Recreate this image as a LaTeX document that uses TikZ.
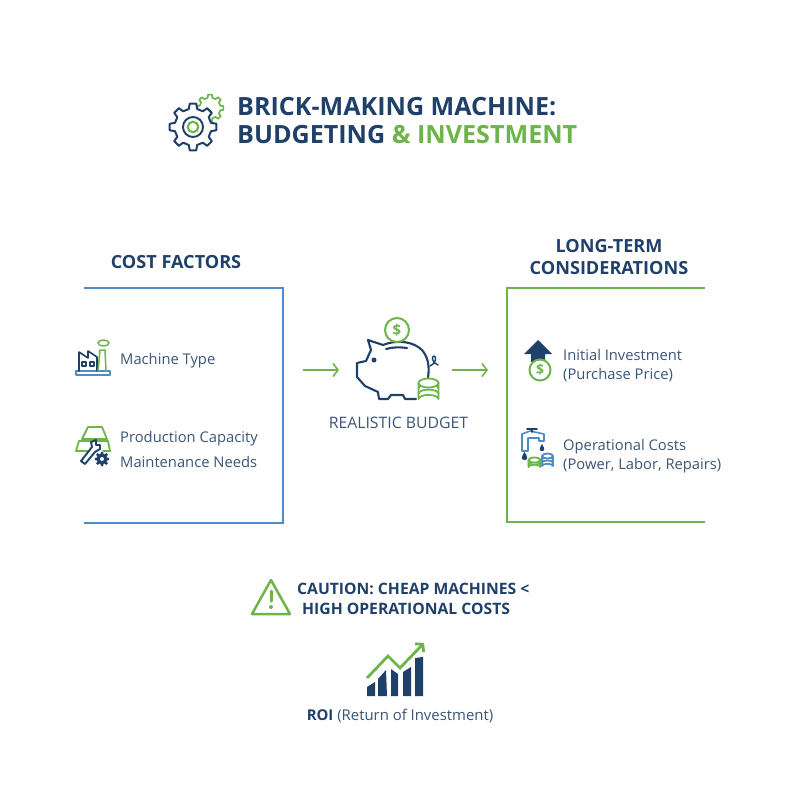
\documentclass[tikz,border=0pt]{standalone}
\usepackage{fontspec}
\setmainfont{Open Sans}
\usetikzlibrary{calc,positioning,arrows.meta}

\definecolor{navy}{HTML}{1F4068}
\definecolor{leaf}{HTML}{6DB54A}
\definecolor{skyline}{HTML}{4F8BC4}
\definecolor{bodytext}{HTML}{3A5576}

\tikzset{
    label/.style={anchor=base west, inner sep=0pt, text=bodytext, font=\fontsize{14.75}{14.75}\selectfont},
    caption/.style={anchor=base, inner sep=0pt, text=bodytext, font=\fontsize{#1}{#1}\selectfont},
    heading/.style={anchor=base, inner sep=0pt, text=navy, font=\fontsize{18.1}{18.1}\selectfont\bfseries},
    warning/.style={anchor=base west, inner sep=0pt, text=navy, font=\fontsize{15.7}{15.7}\selectfont\bfseries},
    titletext/.style={anchor=base west, inner sep=0pt, text=navy, font=\fontsize{25.1}{25.1}\selectfont\bfseries},
    coin/.style={circle, draw=leaf, line width=2pt, fill=white, inner sep=0pt, text=leaf, font=\fontsize{#1}{#1}\selectfont\bfseries},
    panel/.style={line width=2pt},
    icon/.style={line width=1.8pt, line join=round, line cap=round},
    flow/.style={draw=leaf, line width=1.6pt, -{Straight Barb[length=5pt,width=13pt]}}
}

% teeth from the root circle out to the tip circle
\newcommand{\gearpath}[4]{
    (#1,#2) ++(-13:#3) \foreach \a in {0,45,...,315} {
        -- ($(#1,#2)+(\a-13:#3)$) -- ($(#1,#2)+(\a-8:#4)$) -- ($(#1,#2)+(\a+8:#4)$) -- ($(#1,#2)+(\a+13:#3)$)
    } -- cycle
}
% stack of flat coins, top disc at y
\newcommand{\coinstack}[6]{
    \draw[icon, draw=#6, fill=white] (#1-#3,#2) -- (#1-#3,#2+#5) arc (180:360:#3 and #4*0.9) -- (#1+#3,#2);
    \foreach \k in {1,...,2} {
        \draw[icon, draw=#6] (#1-#3,#2+\k*#5/3) arc (180:360:#3 and #4*0.9);
    }
    \draw[icon, draw=#6, fill=white] (#1,#2) ellipse (#3 and #4);
}

\begin{document}
\begin{tikzpicture}[x=1pt, y=-1pt]
    \useasboundingbox (0,0) rectangle (800,800);

    % title
    \draw[icon, draw=leaf, line width=1.7pt] \gearpath{210}{108}{10.5}{13.5};
    \draw[icon, draw=navy, fill=white, line width=2pt] \gearpath{193}{127}{18.5}{23.5};
    \node[circle, draw=navy, line width=1.9pt, minimum size=20pt, inner sep=0pt] (gearring) at (193,127) {};
    \node[circle, draw=leaf, line width=2.1pt, minimum size=10.5pt, inner sep=0pt] (gearhub) at (193,127) {};
    \node[titletext] (title) at (237,115) {BRICK-MAKING MACHINE:};
    \node[titletext] (subtitle) at (237,143.5) {BUDGETING \textcolor{leaf}{\&} \textcolor{leaf}{INVESTMENT}};

    % left panel
    \node[heading] (costhead) at (176,268.5) {COST FACTORS};
    \coordinate (costa) at (84,288);
    \coordinate (costb) at (283,288);
    \coordinate (costc) at (283,523);
    \coordinate (costd) at (84,523);
    \draw[panel, draw=skyline] (costa) -- (costb) -- (costc) -- (costd);

    % factory
    \draw[icon, draw=skyline, line width=1.7pt] (76,371) rectangle (110,375);
    \draw[icon, draw=navy, line width=1.6pt] (79,371) -- (79,352) -- (88,358) -- (88,351) -- (97,357) -- (97,371);
    \draw[icon, draw=navy, line width=1.3pt] (82,362) rectangle (86,366) (90,362) rectangle (94,366);
    \draw[icon, draw=leaf, line width=1.5pt] (98,371) -- (100,350) -- (105,350) -- (106,371);
    \draw[icon, draw=leaf, line width=1.5pt] (103.5,343) ellipse (5.5 and 3);
    \node[label] (machine) at (120,364) {Machine Type};

    % bricks and spanner
    \draw[icon, draw=leaf] (82,439) -- (88,427) -- (102,427) -- (107,439) -- cycle;
    \draw[icon, draw=leaf] (76,451) -- (79,441) -- (93,441) -- (95,451) -- cycle;
    \draw[icon, draw=leaf] (97,441) -- (108,441) -- (110,451) -- (103,451);
    \draw[icon, draw=navy, fill=white, line width=1.9pt] (81,461) -- (92,447) -- (91,442) -- (96,440) -- (96,445) -- (100,445) -- (100,449) -- (95,452) -- (85,464) -- cycle;
    \draw[navy, fill=navy] \gearpath{102}{459}{5}{7};
    \node[circle, fill=white, minimum size=4pt, inner sep=0pt] (boltcentre) at (102,459) {};
    \node[label] (capacity) at (120,442.5) {Production Capacity};
    \node[label, below=25pt of capacity.base west, anchor=base west] (upkeep) {Maintenance Needs};

    % piggy bank
    \coordinate (flowain) at (303,370);
    \coordinate (flowaout) at (339,370);
    \coordinate (flowbin) at (452,370);
    \coordinate (flowbout) at (488,370);
    \draw[flow] (flowain) -- (flowaout);
    \draw[flow] (flowbin) -- (flowbout);
    \draw[icon, draw=navy, line width=2.1pt] (428,378)
        .. controls (430,364) and (427,356) .. (422,350)
        .. controls (414,342) and (398,339) .. (383,345)
        -- (368,340) -- (371,350) -- (366,361) -- (357,363) -- (357,377) -- (365,386)
        -- (378,392) -- (379,399) -- (388,399) -- (391,395) -- (403,395) -- (405,399) -- (416,399);
    \draw[icon, draw=navy, line width=2.1pt] (386,349) .. controls (393,347) and (400,347) .. (407,348);
    \draw[icon, draw=navy, line width=1.4pt] (430,366) .. controls (436,364) and (437,356) .. (434,356)
        .. controls (431,356) and (432,363) .. (438,365);
    \node[circle, fill=navy, minimum size=5pt, inner sep=0pt] (pigeye) at (374,360) {};
    \node[coin=15] (pigcoin) at (397,330) [minimum size=24pt] {\$};
    \coinstack{428.5}{383}{10}{4.5}{16}{leaf}
    \node[caption=15.8] (budget) at (398.5,428) {REALISTIC BUDGET};

    % right panel
    \node[heading] (longhead) at (609,252.5) {LONG-TERM};
    \node[heading, below=22pt of longhead.base, anchor=base] (longheadb) {CONSIDERATIONS};
    \coordinate (longa) at (705,288);
    \coordinate (longb) at (507,288);
    \coordinate (longc) at (507,522);
    \coordinate (longd) at (705,522);
    \draw[panel, draw=leaf] (longa) -- (longb) -- (longc) -- (longd);

    % arrow and coin
    \fill[navy] (538,340) -- (552,354) -- (545,354) -- (545,362) -- (531,362) -- (531,354) -- (524,354) -- cycle;
    \node[coin=14] (buycoin) at (540,370) [minimum size=21pt] {\$};
    \node[label] (initial) at (563,360.5) {Initial Investment};
    \node[label, below=19pt of initial.base west, anchor=base west] (purchase) {(Purchase Price)};

    % tap and coins
    \draw[icon, draw=skyline, line width=1.6pt] (522,451) -- (522,434) -- (530,431) -- (544,434) -- (544,441) -- (539,441) -- (539,438) -- (528,438) -- (528,451) -- cycle;
    \draw[icon, draw=navy, line width=1.6pt] (527,429) -- (537,429) (532,429) -- (532,432);
    \fill[navy] (524.5,452) .. controls (521,457) and (521,460) .. (524.5,460) .. controls (528,460) and (528,457) .. (524.5,452);
    \fill[navy] (542,444) .. controls (539,449) and (539,451) .. (542,451) .. controls (545,451) and (545,449) .. (542,444);
    \coinstack{547.5}{456}{5.5}{2.5}{10}{skyline}
    \coinstack{534.5}{460}{6}{2.5}{7}{leaf}
    \node[label] (operating) at (563,450.5) {Operational Costs};
    \node[label, below=19pt of operating.base west, anchor=base west] (running) {(Power, Labor, Repairs)};

    % caution
    \draw[icon, draw=leaf, line width=2.5pt] (271,580) -- (290,614) -- (252,614) -- cycle;
    \draw[draw=leaf, line width=3pt, line cap=round] (271,591) -- (271,601);
    \node[circle, fill=leaf, minimum size=4pt, inner sep=0pt] (warndot) at (271,607) {};
    \node[warning] (cautiona) at (297,594.5) {CAUTION: CHEAP MACHINES <};
    \node[warning] (cautionb) at (302,614.5) {HIGH OPERATIONAL COSTS};

    % return chart
    \fill[navy] (367,696) -- (367,687) -- (375,682) -- (375,696) -- cycle;
    \fill[navy] (378,696) -- (378,679) -- (386,670) -- (387,696) -- cycle;
    \fill[navy] (391,696) -- (391,669) -- (398,674) -- (398,696) -- cycle;
    \fill[navy] (403,696) -- (403,672) -- (411,667) -- (411,696) -- cycle;
    \fill[navy] (415,696) -- (415,658) -- (423,657) -- (423,696) -- cycle;
    \coordinate (risea) at (367,678);
    \coordinate (riseb) at (388,656);
    \coordinate (risec) at (400,668);
    \coordinate (rised) at (424,643);
    \draw[leaf, line width=2.8pt, -{Straight Barb[length=5pt,width=12pt]}] (risea) -- (riseb) -- (risec) -- (rised);
    \node[caption=14.9] (roi) at (400,720.5) {\textcolor{navy}{\bfseries ROI} (Return of Investment)};

\end{tikzpicture}
\end{document}
